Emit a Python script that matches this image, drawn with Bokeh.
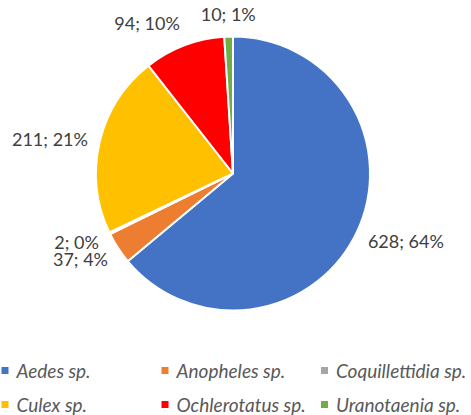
import math
from bokeh.plotting import figure
from bokeh.models import Range1d, ColumnDataSource
from bokeh.core.properties import value
from bokeh.embed import file_html
from bokeh.resources import INLINE

# ---- data ----
categories = ["Aedes sp.", "Anopheles sp.", "Coquillettidia sp.",
              "Culex sp.", "Ochlerotatus sp.", "Uranotaenia sp."]
counts = [628, 37, 2, 211, 94, 10]
colors = ["#4472C4", "#ED7D31", "#A5A5A5", "#FFC000", "#FF0000", "#70AD47"]

W, H = 471, 415
FONT = "Lato"

p = figure(width=W, height=H, output_backend="svg", toolbar_location=None,
           x_range=Range1d(0, W), y_range=Range1d(0, H),
           x_axis_type=None, y_axis_type=None, min_border=0)
p.grid.visible = False
p.outline_line_color = None
p.background_fill_color = "white"
p.border_fill_color = "white"

cx, cy, r = 232.5, H - 173, 137
total = float(sum(counts))

starts, ends, lx, ly, la, lb, ltxt = [], [], [], [], [], [], []
cum = 0.0
for c in counts:
    frac = c / total
    a0 = math.pi / 2 - cum * 2 * math.pi
    a1 = math.pi / 2 - (cum + frac) * 2 * math.pi
    starts.append(a0)
    ends.append(a1)
    mid = (cum + frac / 2) * 2 * math.pi  # clockwise from top
    s, cu = math.sin(mid), math.cos(mid)
    rl = r + 12
    lx.append(cx + rl * s)
    ly.append(cy + rl * cu - (4 if cu < -0.3 else 0))
    la.append("left" if s > 0.3 else ("right" if s < -0.3 else "center"))
    lb.append("bottom" if cu > 0.8 else ("top" if cu < -0.8 else "middle"))
    ltxt.append(f"{c}; {round(frac * 100)}%")
    cum += frac

src = ColumnDataSource(dict(start=starts, end=ends, color=colors))
p.wedge(x=cx, y=cy, radius=r, start_angle="start", end_angle="end",
        direction="clock", fill_color="color", line_color="white",
        line_width=2, source=src)

lsrc = ColumnDataSource(dict(x=lx, y=ly, text=ltxt, align=la, base=lb))
p.text(x="x", y="y", text="text", text_align="align", text_baseline="base",
       text_font=value(FONT), text_font_size="18px", text_color="#404040",
       source=lsrc)

# legend
col_x = [4.5, 164.5, 324]
row_y = [H - 370, H - 404]
mx, my, tx = [], [], []
for i, name in enumerate(categories):
    mx.append(col_x[i % 3])
    my.append(row_y[i // 3])
    tx.append(col_x[i % 3] + 11.5)
gsrc = ColumnDataSource(dict(mx=mx, my=my, tx=tx, name=categories, color=colors))
p.scatter(x="mx", y="my", marker="square", size=7, fill_color="color",
          line_color=None, source=gsrc)
p.text(x="tx", y="my", text="name", text_align="left", text_baseline="middle",
       text_font=value(FONT), text_font_size="19px", text_font_style="italic",
       text_color="#595959", source=gsrc)

open("out.html", "w").write(file_html(p, INLINE))
